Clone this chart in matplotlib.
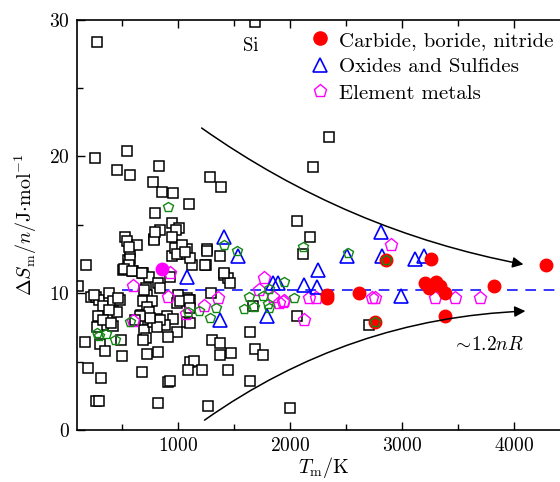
import matplotlib
matplotlib.use("Agg")
import matplotlib.pyplot as plt
from matplotlib.patches import FancyArrowPatch

plt.rcParams['font.family'] = ['cmr10']
plt.rcParams['mathtext.fontset'] = 'cm'
plt.rcParams['axes.formatter.use_mathtext'] = True

# ---- data (T_m in K, dS_m/n in J/mol/K) ----
sq_T = [280, 1685, 261, 540, 452, 570, 830, 773, 855, 955, 795, 1100, 1282, 1385, 944, 1010, 838, 980, 530, 785, 945,
        2350, 2207, 2063, 2180,
        108, 180, 198, 171, 313, 270, 290, 306, 344, 496, 486,
        225, 270, 297, 334, 387, 415, 477, 452, 297, 325, 360, 415, 280,
        540, 505, 594, 550, 568, 540, 630, 785, 685, 740, 820, 710, 720, 731, 686, 768, 720,
        944, 973, 1045, 1080, 1125, 1035, 1108,
        928, 1260, 1252, 1370, 1406, 1442, 1460,
        820, 900, 955, 883, 991, 910, 667, 730, 694, 712, 685, 720, 775, 820, 676, 910, 925, 820,
        1108, 1144, 1090, 1216, 1270, 1306, 1378, 1370, 1469, 1450, 1640, 1685, 1757, 1640, 1667,
        1080, 1108, 1000, 1080, 1108, 1297, 991,
        560, 568, 560, 514, 586, 676, 991, 1063, 795,
        1261, 1243, 1406,
        2117, 2063, 2000, 2703,
        838, 694, 1018, 1099, 1108, 740, 838, 811, 748, 658, 252, 468, 387, 288, 333, 405, 613]
sq_S = [28.4, 29.8, 19.9, 20.4, 19.0, 18.65, 19.3, 18.1, 17.4, 17.3, 15.9, 16.5, 18.5, 17.8, 15.1, 14.8, 14.6, 14.6, 14.1, 14.0, 14.1,
        21.4, 19.2, 15.3, 14.1,
        10.5, 12.1, 4.5, 6.4, 3.8, 2.1, 2.1, 6.3, 5.8, 5.4, 6.6,
        9.7, 9.7, 9.5, 9.1, 10.0, 9.4, 9.5, 8.6, 8.2, 7.9, 7.7, 7.6, 7.5,
        11.8, 11.7, 11.6, 12.4, 13.0, 13.8, 13.5, 13.9, 11.5, 11.2, 10.75, 10.4, 9.9, 9.3, 9.4, 9.4, 9.0,
        12.7, 13.3, 12.9, 13.2, 12.1, 13.5, 12.6,
        11.2, 13.2, 12.1, 12.7, 11.3, 11.1, 10.75,
        8.1, 8.3, 8.1, 7.7, 7.2, 6.8, 8.4, 8.05, 7.3, 6.7, 6.6, 5.55, 7.9, 5.7, 4.25, 3.5, 3.6, 2.0,
        5.0, 5.05, 4.4, 4.4, 1.75, 6.6, 6.35, 5.5, 5.6, 4.4, 7.2, 5.9, 5.5, 3.6, 9.1,
        9.65, 9.5, 9.9, 7.9, 7.8, 10.0, 9.3,
        13.4, 12.5, 12.1, 11.8, 11.6, 11.5, 12.9, 13.0, 14.5,
        13.1, 12.1, 11.5,
        12.9, 8.35, 1.6, 7.7,
        10.4, 10.2, 9.4, 9.5, 8.9, 8.6, 8.05, 7.5, 8.2, 8.3, 9.9, 9.65, 8.8, 8.3, 8.05, 7.8, 8.05]

green_T = [907, 297, 360, 441, 280, 568, 1090, 1190, 1288, 1342, 1630, 1586, 1676, 1811, 1802, 1811,
           1406, 1523, 1946, 1757, 2117, 2036, 2514, 2856, 2757]
green_S = [16.3, 6.9, 7.0, 6.6, 7.1, 7.9, 8.6, 8.7, 8.2, 8.9, 9.7, 8.85, 9.0, 10.3, 9.2, 8.9,
           13.5, 13.1, 10.85, 9.8, 13.4, 9.65, 12.95, 12.4, 7.9]

metal_T = [928, 594, 910, 1234, 1352, 1766, 594, 1900, 1721, 1847, 1937, 2171, 2235, 1946, 2126,
           2730, 2757, 3297, 3469, 3694, 2901, 1070]
metal_S = [11.5, 10.5, 9.7, 9.1, 9.65, 11.1, 8.0, 9.3, 10.2, 9.7, 9.35, 9.65, 9.65, 9.4, 8.05,
           9.65, 9.65, 9.65, 9.65, 9.65, 13.5, 8.5]

oxide_T = [2811, 1406, 1532, 1080, 1370, 1793, 1847, 1892, 2126, 2252, 2243, 2505, 2820, 3117, 3198, 2991]
oxide_S = [14.5, 14.1, 12.7, 11.2, 8.05, 8.3, 10.75, 10.75, 10.6, 11.7, 10.45, 12.7, 12.7, 12.5, 12.7, 9.8]

carb_T = [2333, 2333, 2613, 3207, 3243, 3306, 3342, 3387, 3820, 4289, 3387, 2757, 2856, 3261]
carb_S = [9.65, 9.9, 10.0, 10.75, 10.4, 10.8, 10.5, 10.0, 10.5, 12.1, 8.3, 7.9, 12.4, 12.5]

special_T = [855]
special_S = [11.8]

ref_level = 10.2

fig = plt.figure(figsize=(5.6, 4.82), dpi=100)
ax = fig.add_axes([0.137, 0.108, 0.881, 0.851])

ax.plot(sq_T, sq_S, 's', ms=7, mfc='white', mec='black', mew=1.1, ls='none', zorder=2)
ax.plot(metal_T, metal_S, 'p', ms=9.5, mfc='none', mec='#ff00ff', mew=1.0, ls='none', zorder=3)
ax.plot(oxide_T, oxide_S, '^', ms=10, mfc='none', mec='#0000ff', mew=1.2, ls='none', zorder=4)
ax.plot(carb_T, carb_S, 'o', ms=9, mfc='#ff0000', mec='#ff0000', ls='none', zorder=5)
ax.plot(green_T, green_S, 'p', ms=7.5, mfc='none', mec='#118811', mew=1.0, ls='none', zorder=6)
ax.plot(special_T, special_S, 'o', ms=9, mfc='#ff00ff', mec='#ff00ff', ls='none', zorder=5)

ax.plot([500, 4500], [ref_level, ref_level], ls=(0, (7, 5)), color='#0000ff', lw=1.1, zorder=1)

# legend handles
h1, = ax.plot([], [], 'o', ms=9.5, mfc='#ff0000', mec='#ff0000', ls='none')
h2, = ax.plot([], [], '^', ms=10.5, mfc='none', mec='#0000ff', mew=1.2, ls='none')
h3, = ax.plot([], [], 'p', ms=9.5, mfc='none', mec='#ff00ff', mew=1.0, ls='none')
ax.legend([h1, h2, h3], ['Carbide, boride, nitride', 'Oxides and Sulfides', 'Element metals'],
          loc='upper left', bbox_to_anchor=(0.466, 0.98), frameon=False, fontsize=15,
          handlelength=1.0, handletextpad=0.42, labelspacing=0.38, borderpad=0.15, borderaxespad=0)

# arrows
a1 = FancyArrowPatch((1190, 22.2), (4108, 12.07), connectionstyle='arc3,rad=0.11',
                     arrowstyle='-|>', mutation_scale=16, color='black', lw=1.1, zorder=7)
a2 = FancyArrowPatch((1216, 0.6), (4126, 8.7), connectionstyle='arc3,rad=-0.15',
                     arrowstyle='-|>', mutation_scale=16, color='black', lw=1.1, zorder=7)
ax.add_patch(a1)
ax.add_patch(a2)

ax.text(1650, 28.1, 'Si', fontsize=13.5, ha='center', va='center')
ax.text(3450, 6.2, r'$\sim\!1.2nR$', fontsize=14, ha='left', va='center')

ax.set_xlim(95, 4500)
ax.set_ylim(0, 30)
ax.set_xticks([1000, 2000, 3000, 4000])
ax.set_xticks([500, 1500, 2500, 3500, 4500], minor=True)
ax.set_yticks([0, 10, 20, 30])
ax.set_yticks([5, 15, 25], minor=True)
ax.tick_params(which='both', direction='in', top=True, right=True, labelsize=14, width=1.0)
ax.tick_params(which='major', length=6, pad=5)
ax.tick_params(which='minor', length=4)
for s in ax.spines.values():
    s.set_linewidth(1.2)

ax.set_xlabel(r'$T_{\mathrm{m}}/\mathrm{K}$', fontsize=14.5, labelpad=0)
ax.set_ylabel(r'$\Delta S_{\mathrm{m}}/n/\mathrm{J{\cdot}mol^{-1}}$', fontsize=14.5, labelpad=7)

fig.savefig('out.png', dpi=100)
